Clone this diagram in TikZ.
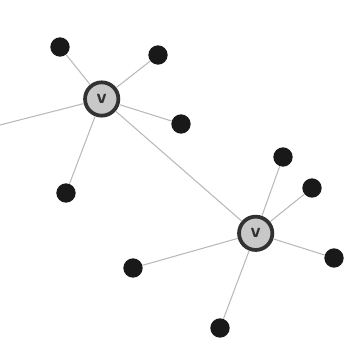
\documentclass[tikz,border=0pt]{standalone}
\usepackage{tikz}
\definecolor{hubgray}{RGB}{200,200,200}
\definecolor{rimgray}{RGB}{50,50,50}
\definecolor{linkgray}{RGB}{185,185,185}
\begin{document}
\begin{tikzpicture}[x=.03cm,y=-.03cm,
    hub/.style={circle,fill=hubgray,draw=rimgray,line width=3.2pt,minimum size=1cm,inner sep=0pt,font=\sffamily\bfseries\LARGE,text=rimgray},
    dot/.style={circle,fill=black!90,minimum size=.58cm,inner sep=0pt},
    link/.style={draw=linkgray,line width=.9pt}]
        \useasboundingbox (0,0) rectangle (345,338);
        \node[hub] (v1) at (101.7,99) {v};
        \node[hub] (v2) at (255.7,233.3) {v};
        \node[dot] (a) at (60,47) {};
        \node[dot] (b) at (158,55) {};
        \node[dot] (c) at (181,124) {};
        \node[dot] (d) at (66,193) {};
        \node[dot] (e) at (283,157) {};
        \node[dot] (f) at (312,188) {};
        \node[dot] (g) at (334,258) {};
        \node[dot] (h) at (133,268) {};
        \node[dot] (i) at (220,328) {};
        \coordinate (out) at (0,125);
        \foreach \n in {a,b,c,d,out} \path[link] (v1) -- (\n);
        \foreach \n in {e,f,g,h,i} \path[link] (v2) -- (\n);
        \path[link] (v1) -- (v2);
      \end{tikzpicture}
\end{document}
